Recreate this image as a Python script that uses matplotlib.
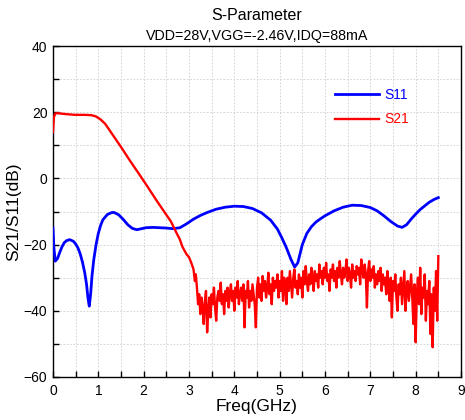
import numpy as np
import matplotlib
matplotlib.use("Agg")
import matplotlib.pyplot as plt
from matplotlib.ticker import MultipleLocator

plt.rcParams['font.family'] = ['Liberation Sans', 'DejaVu Sans']

# ---------------- data ----------------
s11_freq = [0.0, 0.02, 0.05, 0.1, 0.15, 0.2, 0.25, 0.3, 0.37, 0.45, 0.5, 0.55, 0.6, 0.65,
            0.7, 0.74, 0.77, 0.8, 0.83, 0.86, 0.9, 0.95, 1.0, 1.05, 1.1, 1.2, 1.3, 1.35,
            1.45, 1.55, 1.65, 1.75, 1.85, 1.95, 2.05, 2.2, 2.35, 2.5, 2.65, 2.8, 2.95,
            3.1, 3.25, 3.4, 3.6, 3.8, 4.0, 4.2, 4.4, 4.6, 4.8, 4.95, 5.05, 5.15, 5.25,
            5.33, 5.4, 5.5, 5.6, 5.7, 5.8, 5.9, 6.0, 6.2, 6.4, 6.6, 6.8, 7.0, 7.15, 7.3,
            7.45, 7.6, 7.7, 7.8, 7.9, 8.0, 8.1, 8.2, 8.3, 8.4, 8.5]
s11_db = [-15.0, -21.0, -25.0, -24.2, -22.3, -20.6, -19.4, -18.8, -18.5, -19.0, -19.8,
          -21.0, -22.8, -25.3, -28.5, -32.0, -36.0, -38.6, -35.0, -29.5, -24.5, -20.0,
          -16.6, -14.2, -12.5, -10.9, -10.3, -10.3, -11.0, -12.4, -14.0, -15.1, -15.5,
          -15.2, -14.9, -14.8, -14.9, -15.0, -15.2, -14.9, -13.7, -12.3, -11.2, -10.3,
          -9.3, -8.7, -8.4, -8.5, -9.1, -10.4, -12.6, -15.3, -18.0, -21.0, -24.5, -26.8,
          -25.5, -20.0, -16.6, -14.6, -13.2, -12.2, -11.3, -9.8, -8.7, -8.1, -8.2, -8.8,
          -9.8, -11.3, -13.0, -14.4, -14.8, -14.0, -12.3, -10.8, -9.4, -8.3, -7.2, -6.4,
          -5.8]

# S21: smooth part (0 - 3.15 GHz)
s21_freq_a = [0.0, 0.02, 0.05, 0.1, 0.3, 0.5, 0.7, 0.85, 0.95, 1.05, 1.15, 1.3, 1.5, 1.7,
              1.9, 2.1, 2.3, 2.5, 2.6, 2.7, 2.8, 2.85, 2.9, 2.95, 3.0, 3.05, 3.1, 3.13, 3.15]
s21_db_a = [14.0, 18.5, 19.6, 19.7, 19.4, 19.2, 19.2, 19.1, 18.7, 17.8, 16.5, 13.5, 9.5,
            5.3, 1.3, -2.8, -7.0, -11.0, -13.0, -15.8, -18.5, -20.5, -21.8, -23.0, -23.8,
            -25.5, -27.5, -31.0, -29.0]
# S21: noisy part, 3.175 - 8.5 GHz, step 0.025 GHz
s21_freq_b_start, s21_freq_b_stop = 3.175, 8.5
s21_db_b = [
    -33, -38, -35, -41, -36, -39, -44, -37, -34, -46.5,
    -40, -36, -42, -35, -38, -33, -39, -43, -36, -34,
    -37, -31.5, -38, -35, -41, -34, -37, -33, -39, -35,
    -32, -37, -34, -40, -33, -36, -31, -38, -35, -33,
    -37, -32, -45, -34, -36, -31, -39, -34, -37, -32,
    -35, -38, -45, -33, -30, -36, -32, -37, -29.5, -34,
    -31, -36, -33, -28.5, -35, -32, -38, -30, -34, -31,
    -33, -29, -36, -31, -34, -28, -37, -30, -33, -38,
    -30, -34, -28, -32, -36, -30, -27.5, -33, -31, -35,
    -29, -33, -30, -36, -28, -32, -26.5, -31, -34, -29,
    -32, -27, -30, -34, -28, -31, -29, -33, -26, -30,
    -28, -32, -27, -30, -25.5, -31, -29, -34, -27.5, -30,
    -26, -31, -28, -33, -27, -30, -25, -29, -32, -27,
    -30, -28, -24.5, -31, -27, -29, -33, -26, -30, -28,
    -31, -26.5, -29, -27, -32, -24.5, -28, -30, -26, -29,
    -39, -28, -25, -31, -27.5, -30, -26.5, -33, -29, -32,
    -28, -31, -27, -34, -29, -32, -30, -35, -28, -33,
    -37, -30, -42, -31, -34, -29, -36, -40, -32, -35,
    -30, -38, -33, -28, -40, -34, -31, -37, -33, -29,
    -36, -44, -32, -49.5, -35, -30, -38, -27, -41, -33,
    -36, -29, -43, -34, -38, -31, -47, -35, -51, -33,
    -40, -28, -43, -23.5]
s21_freq_b = np.linspace(s21_freq_b_start, s21_freq_b_stop, len(s21_db_b))
s21_freq = np.concatenate([s21_freq_a, s21_freq_b])
s21_db = np.concatenate([s21_db_a, s21_db_b])

title = "S-Parameter"
subtitle = "VDD=28V,VGG=-2.46V,IDQ=88mA"
xlabel = "Freq(GHz)"
ylabel = "S21/S11(dB)"

# ---------------- figure ----------------
fig = plt.figure(figsize=(4.65, 4.2), dpi=100)
ax = fig.add_axes([53/465, 1-377/420, (461-53)/465, (377-46)/420])

ax.plot(s11_freq, s11_db, color='#0000FF', lw=2.0, label='S11', zorder=3)
ax.plot(s21_freq, s21_db, color='#FF0000', lw=1.7, label='S21', zorder=3)

ax.set_xlim(0, 9)
ax.set_ylim(-60, 40)
ax.xaxis.set_major_locator(MultipleLocator(1))
ax.xaxis.set_minor_locator(MultipleLocator(0.5))
ax.yaxis.set_major_locator(MultipleLocator(20))
ax.yaxis.set_minor_locator(MultipleLocator(10))
ax.tick_params(which='both', direction='in', length=4, width=1, top=False, right=False,
               labelsize=10)
ax.tick_params(axis='x', pad=5)
ax.tick_params(axis='y', pad=4)
ax.grid(True, which='both', color='#cfcfcf', linestyle=(0, (2, 2)), linewidth=0.6, zorder=0)
for s in ax.spines.values():
    s.set_linewidth(1.0)
    s.set_color('black')

ax.set_xlabel(xlabel, fontsize=12.5, labelpad=1)
ax.set_ylabel(ylabel, fontsize=12.5, labelpad=2)

fig.text(257/465, 1-15/420, title, ha='center', va='center', fontsize=11.5)
fig.text(257/465, 1-36/420, subtitle, ha='center', va='center', fontsize=10.3)

leg = ax.legend(loc='upper left', bbox_to_anchor=((335-53)/408, 1-(88-46)/331),
                frameon=False, fontsize=10, handlelength=3.2, handletextpad=0.35,
                labelspacing=0.75, borderpad=0, borderaxespad=0, labelcolor='linecolor')

fig.savefig('out.png', dpi=100)
